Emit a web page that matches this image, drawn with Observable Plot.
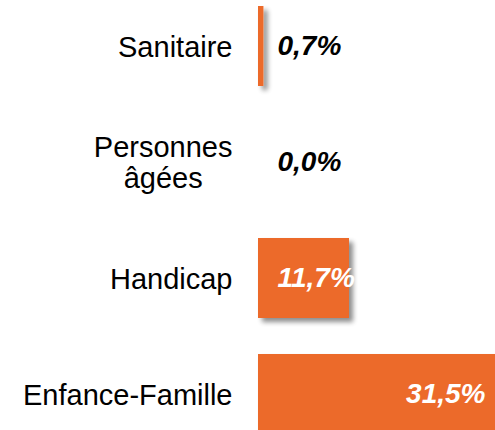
<!DOCTYPE html>
<html>
<head>
<meta charset="utf-8">
<script src="https://cdn.jsdelivr.net/npm/d3@7"></script>
<script src="https://cdn.jsdelivr.net/npm/@observablehq/plot@0.6"></script>
<style>
  html, body { margin: 0; padding: 0; background: #fff; overflow: hidden; }
  #chart svg { max-width: none; overflow: hidden; }
</style>
</head>
<body>
<div id="chart"></div>
<script>
const categories = ["Sanitaire", "Personnes âgées", "Handicap", "Enfance-Famille"];
const displayLabels = ["Sanitaire", "Personnes\nâgées", "Handicap", "Enfance-Famille"];
const values = [0.7, 0.0, 11.7, 31.5];

const data = categories.map((c, i) => ({ category: c, label: displayLabels[i], value: values[i] }));
const fmt = v => v.toFixed(1).replace(".", ",") + "%";
const orange = "#EC6B2B";
const big = d => d.value > 20;

const valueStyle = { fontSize: 28, fontWeight: "bold", fontStyle: "italic" };

const plot = Plot.plot({
  width: 495,
  height: 441,
  marginLeft: 258,
  marginRight: -8,
  marginTop: 0,
  marginBottom: 0,
  style: { fontFamily: "Arial, 'Liberation Sans', sans-serif", background: "#fff" },
  x: { domain: [0, 31.5], axis: null },
  y: { domain: categories, axis: null, paddingInner: 0.31, paddingOuter: 0.052 },
  marks: [
    Plot.barX(data, { x: "value", y: "category", fill: orange }),
    Plot.text(data, {
      x: () => 0, y: "category", text: "label",
      textAnchor: "end", dx: -26, fontSize: 29, lineHeight: 1.08, fill: "#000"
    }),
    Plot.text(data, {
      filter: d => !big(d),
      x: () => 0, y: "category", text: d => fmt(d.value),
      textAnchor: "start", dx: 19, ...valueStyle,
      fill: d => d.value > 5 ? "#fff" : "#000"
    }),
    Plot.text(data, {
      filter: big,
      x: "value", y: "category", text: d => fmt(d.value),
      textAnchor: "end", dx: -18, ...valueStyle, fill: "#fff"
    })
  ]
});

const svg = plot;
const defs = document.createElementNS("http://www.w3.org/2000/svg", "defs");
defs.innerHTML = `<filter id="shadow" x="-20%" y="-20%" width="160%" height="160%">
  <feGaussianBlur in="SourceAlpha" stdDeviation="2.5"/>
  <feOffset dx="4" dy="4" result="b"/>
  <feComponentTransfer><feFuncA type="linear" slope="0.45"/></feComponentTransfer>
  <feMerge><feMergeNode/><feMergeNode in="SourceGraphic"/></feMerge>
</filter>`;
svg.insertBefore(defs, svg.firstChild);
const barG = svg.querySelector('g[aria-label="bar"]');
if (barG) barG.setAttribute("filter", "url(#shadow)");
document.getElementById("chart").appendChild(plot);

// center the lines of wrapped category labels inside their right-aligned block
const labelG = svg.querySelectorAll('g[aria-label="text"]')[0];
labelG.querySelectorAll("text").forEach(t => {
  const spans = t.querySelectorAll("tspan");
  if (spans.length > 1) {
    let w = 0;
    spans.forEach(s => { w = Math.max(w, s.getComputedTextLength()); });
    t.setAttribute("text-anchor", "middle");
    spans.forEach(s => s.setAttribute("x", -w / 2));
  }
});
</script>
</body>
</html>
